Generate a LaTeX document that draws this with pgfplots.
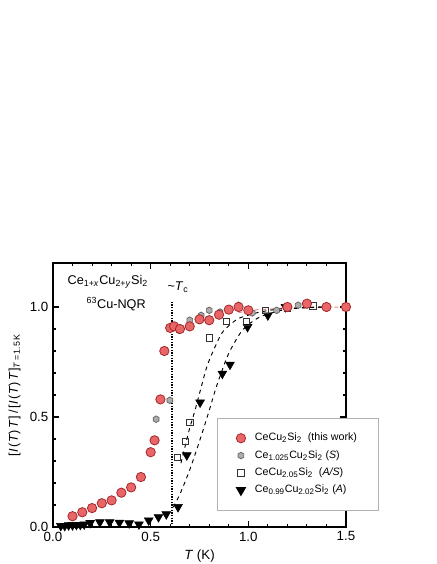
\documentclass[border=0pt]{standalone}
\usepackage{fontspec}
\setmainfont{Liberation Sans}
\setsansfont{Liberation Sans}
\usepackage{pgfplots}
\pgfplotsset{compat=1.18}
\definecolor{redfill}{RGB}{232,102,104}
\definecolor{rededge}{RGB}{165,40,40}
\definecolor{hexfill}{RGB}{172,172,172}
\definecolor{hexedge}{RGB}{95,95,95}
\definecolor{fitred}{RGB}{240,135,135}

\pgfdeclareplotmark{hexagon*}{%
  \pgfpathmoveto{\pgfqpointpolar{90}{\pgfplotmarksize}}%
  \pgfpathlineto{\pgfqpointpolar{150}{\pgfplotmarksize}}%
  \pgfpathlineto{\pgfqpointpolar{210}{\pgfplotmarksize}}%
  \pgfpathlineto{\pgfqpointpolar{270}{\pgfplotmarksize}}%
  \pgfpathlineto{\pgfqpointpolar{330}{\pgfplotmarksize}}%
  \pgfpathlineto{\pgfqpointpolar{30}{\pgfplotmarksize}}%
  \pgfpathclose
  \pgfusepathqfillstroke}

\newcommand{\sub}[1]{\textsubscript{#1}}

\begin{document}
\begin{tikzpicture}
\begin{axis}[
  width=219.75pt, height=198pt, scale only axis,
  xmin=0, xmax=1.5, ymin=0, ymax=1.2,
  xtick={0,0.5,1,1.5}, ytick={0,0.5,1},
  minor x tick num=4, minor y tick num=4,
  xtick pos=both, ytick pos=both,
  xticklabel pos=bottom, yticklabel pos=left,
  tick align=inside,
  major tick length=4.5pt, minor tick length=2.6pt,
  tick style={black, line width=0.8pt},
  axis line style={line width=1.1pt},
  /pgf/number format/assume math mode=true,
  /pgf/number format/fixed, /pgf/number format/fixed zerofill,
  /pgf/number format/precision=1,
  tick label style={font=\fontsize{10}{12}\selectfont},
  label style={font=\fontsize{10}{12}\selectfont},
  xlabel={\textit{T} (K)},
  ylabel={[\textit{I}\,(\textit{T})\,\textit{T}]\,/\,[\textit{I}\,(\textit{T})\,\textit{T}]\sub{\textit{T}\,=\,1.5\,K}},
  ylabel style={font=\fontsize{9.5}{11}\selectfont},
  clip=false,
  legend style={at={(0.56,0.414)}, anchor=north west, draw=gray!60, line width=0.8pt,
    font=\fontsize{8}{9.6}\selectfont, inner xsep=14pt, inner ysep=8.5pt,
    nodes={text height=6pt, text depth=2pt, inner ysep=2.5pt},
    /tikz/every odd column/.style={column sep=5pt}},
  legend cell align=left,
]
\addlegendimage{only marks, mark=*, mark size=3.5pt, mark options={fill=redfill, draw=rededge, line width=0.6pt}}
\addlegendentry{CeCu\sub{2}Si\sub{2}\ \ (this work)}
\addlegendimage{only marks, mark=hexagon*, mark size=2.5pt, mark options={fill=hexfill, draw=hexedge, line width=0.5pt}}
\addlegendentry{Ce\sub{1.025}Cu\sub{2}Si\sub{2} (\textit{S})}
\addlegendimage{only marks, mark=square, mark size=2.4pt, mark options={draw=black!80, line width=0.5pt}}
\addlegendentry{CeCu\sub{2.05}Si\sub{2}\ \ (\textit{A/S})}
\addlegendimage{only marks, mark=triangle*, mark size=3.8pt, mark options={rotate=180, fill=black, draw=black}}
\addlegendentry{Ce\sub{0.99}Cu\sub{2.02}Si\sub{2} (\textit{A})}

% fits
\addplot[forget plot, fitred, dashed, line width=0.8pt] coordinates {
 (0.95,0.975) (1.05,0.988) (1.2,0.995) (1.35,0.999) (1.5,1.0)};
\addplot[forget plot, black, dashed, line width=0.7pt, smooth] coordinates {
 (0.655,0.29) (0.68,0.38) (0.70,0.45) (0.727,0.53) (0.757,0.63) (0.787,0.727)
 (0.82,0.80) (0.863,0.879) (0.90,0.915) (0.948,0.947) (1.0,0.963) (1.06,0.977)
 (1.15,0.99) (1.3,0.998) (1.4,1.0)};
\addplot[forget plot, black, dashed, line width=0.7pt, smooth] coordinates {
 (0.615,0.09) (0.65,0.15) (0.70,0.26) (0.75,0.39) (0.80,0.53) (0.83,0.62)
 (0.863,0.705) (0.90,0.79) (0.957,0.879) (1.0,0.92) (1.06,0.955) (1.136,0.977)
 (1.2,0.99) (1.3,0.997) (1.4,1.0)};
\addplot[forget plot, black, densely dotted, line width=1pt] coordinates {(0.61,0) (0.61,1.03)};

% Ce0.99Cu2.02Si2 (A)
\addplot[forget plot, only marks, mark=triangle*, mark size=3.8pt, mark options={rotate=180, fill=black, draw=black}] coordinates {
 (0.04,0.005) (0.06,0.005) (0.08,0.008) (0.10,0.008) (0.12,0.01) (0.14,0.01)
 (0.16,0.012) (0.19,0.018) (0.24,0.022) (0.29,0.022) (0.34,0.02) (0.39,0.017)
 (0.44,0.012) (0.49,0.03) (0.54,0.045) (0.58,0.058) (0.64,0.091) (0.685,0.326)
 (0.753,0.566) (0.867,0.697) (0.906,0.738) (0.996,0.909) (1.10,0.962) (1.19,1.0)};
% CeCu2.05Si2 (A/S)
\addplot[forget plot, only marks, mark=square, mark size=2.4pt, mark options={fill=white, draw=black!80, line width=0.5pt}] coordinates {
 (0.637,0.318) (0.676,0.39) (0.70,0.477) (0.80,0.86) (0.886,0.935) (0.99,0.932)
 (1.087,0.985) (1.2,0.995) (1.33,1.005)};
% Ce1.025Cu2Si2 (S)
\addplot[forget plot, only marks, mark=hexagon*, mark size=2.5pt, mark options={fill=hexfill, draw=hexedge, line width=0.5pt}] coordinates {
 (0.528,0.49) (0.598,0.576) (0.612,0.91) (0.645,0.894) (0.70,0.94) (0.758,0.962)
 (0.80,0.985) (0.855,0.977) (0.898,0.993) (0.95,1.008) (1.02,0.973) (1.145,0.985)
 (1.255,1.008)};
% CeCu2Si2 (this work)
\addplot[forget plot, only marks, mark=*, mark size=3.5pt, mark options={fill=redfill, draw=rededge, line width=0.6pt}] coordinates {
 (0.10,0.049) (0.15,0.067) (0.20,0.086) (0.25,0.108) (0.30,0.121) (0.35,0.156)
 (0.40,0.18) (0.45,0.227) (0.50,0.34) (0.52,0.394) (0.55,0.58) (0.57,0.80)
 (0.60,0.905) (0.62,0.912) (0.65,0.90) (0.70,0.912) (0.75,0.944) (0.80,0.94)
 (0.85,0.965) (0.90,0.988) (0.95,1.0) (1.00,0.985) (1.20,1.0) (1.30,1.015)
 (1.40,1.0) (1.50,1.0)};

\node[anchor=west, font=\fontsize{9.5}{11}\selectfont] at (axis cs:0.051,1.114)
  {Ce\sub{1+\textit{x}}Cu\sub{2+\textit{y}}Si\sub{2}};
\node[anchor=west, font=\fontsize{9.5}{11}\selectfont] at (axis cs:0.148,1.015)
  {\textsuperscript{63}Cu-NQR};
\node[font=\fontsize{9.5}{11}\selectfont] at (axis cs:0.64,1.09)
  {\textasciitilde\textit{T}\sub{c}};
\end{axis}
\pgfresetboundingbox
\useasboundingbox (-39.75pt,-27.75pt) rectangle (287.25pt,395.25pt);
\end{tikzpicture}
\end{document}
